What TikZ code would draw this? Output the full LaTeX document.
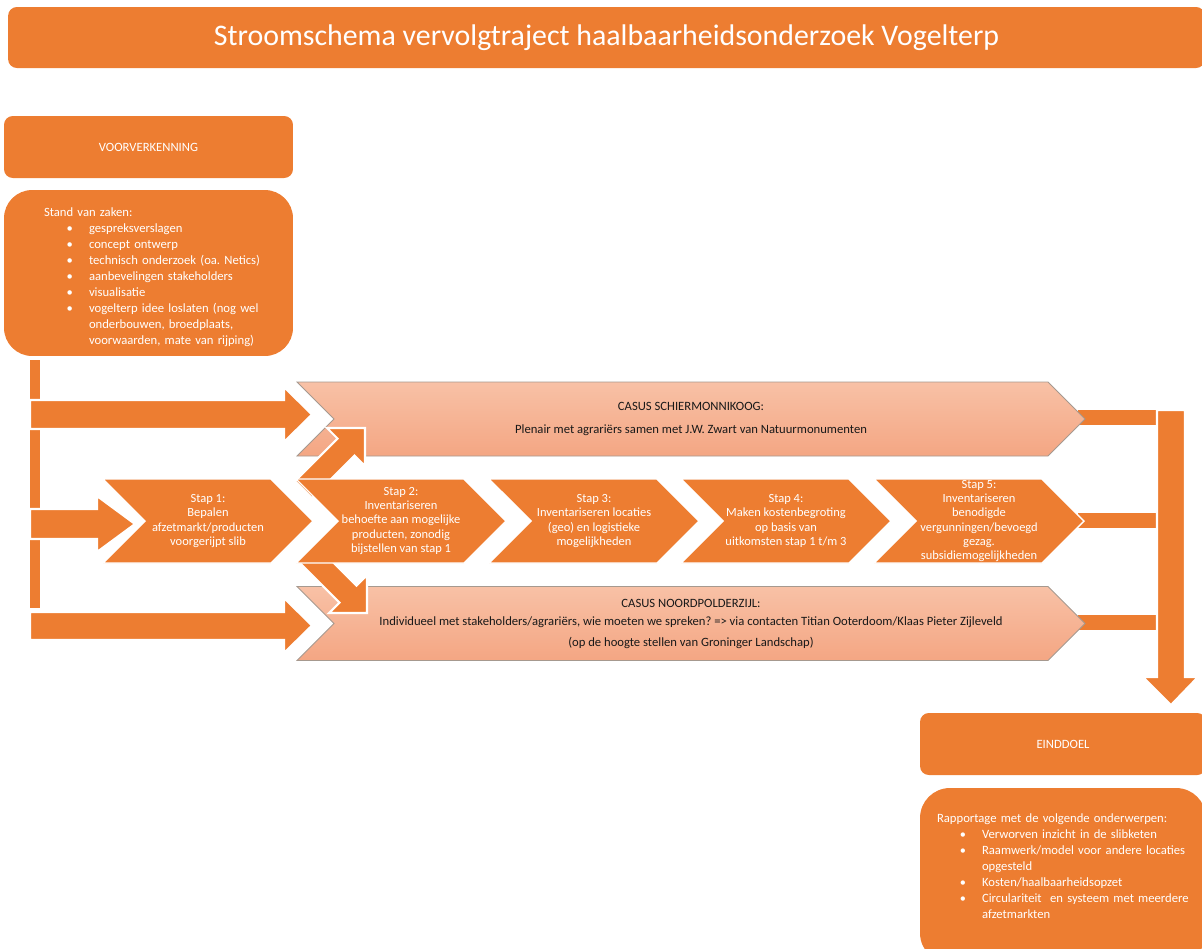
\documentclass[tikz,border=0pt]{standalone}
\usepackage{fontspec}
\setmainfont{Carlito}
\usepackage{enumitem}
\usetikzlibrary{shapes.symbols, positioning}
\frenchspacing

\definecolor{oranje}{HTML}{ED7D31}
\definecolor{zalmboven}{HTML}{F8C1A6}
\definecolor{zalmonder}{HTML}{F4A683}
\definecolor{casusrand}{HTML}{A6998F}

\newcommand{\klein}{\fontsize{7.2}{9.1}\selectfont}

\begin{document}
\begin{tikzpicture}[x=0.02cm, y=-0.02cm,
  balk/.style={fill=oranje, text=white, inner sep=0pt, rounded corners=5pt},
  vak/.style={fill=oranje, inner sep=0pt, rounded corners=16pt},
  lijst/.style={text=white, text width=5.2cm, align=left, inner sep=0pt, font=\klein},
  stap/.style={shape=signal, signal from=west, signal to=east, signal pointer angle=90,
    fill=oranje, draw=white, line width=0.8pt, text=white, align=center,
    minimum width=4.2cm, minimum height=1.68cm, inner sep=0pt,
    font=\fontsize{7.1}{8.1}\selectfont},
  casus/.style={shape=signal, signal from=west, signal to=east, signal pointer angle=90,
    top color=zalmboven, bottom color=zalmonder, draw=casusrand, line width=0.5pt,
    text=black!90, align=center, minimum width=15.76cm, minimum height=1.48cm,
    inner sep=0pt, font=\klein},
  blokpijl/.style={fill=oranje, draw=white, line width=1.2pt}]
\useasboundingbox (0,0) rectangle (1202,948);

% titel en voorverkenning
\node[balk, minimum width=23.94cm, minimum height=1.22cm, font=\fontsize{17}{20}\selectfont]
  (titel) at (606.5,37.5) {Stroomschema vervolgtraject haalbaarheidsonderzoek Vogelterp};
\node[balk, minimum width=5.78cm, minimum height=1.24cm, font=\klein] (voor) at (148.5,147) {VOORVERKENNING};
\node[vak, minimum width=5.78cm, minimum height=3.32cm] (stand) at (148.5,273) {};
\node[lijst, anchor=north west] (standtekst) at ([shift={(40,18)}]stand.north west) {%
  Stand van zaken:
  \begin{itemize}[nosep, leftmargin=0.9cm, labelsep=0.32cm]
  \item gespreksverslagen
  \item concept ontwerp
  \item technisch onderzoek (oa. Netics)
  \item aanbevelingen stakeholders
  \item visualisatie
  \item vogelterp idee loslaten (nog wel\newline onderbouwen, broedplaats,\newline voorwaarden, mate van rijping)
  \end{itemize}};

% pijlen links
\fill[oranje] (30,360) rectangle (40,608);
\draw[blokpijl] (30,400) -- (284,400) -- (284,387) -- (312,414.5) -- (284,442) -- (284,429) -- (30,429) -- cycle;
\draw[blokpijl] (30,509) -- (97,509) -- (97,496) -- (135,524) -- (97,552) -- (97,539) -- (30,539) -- cycle;
\draw[blokpijl] (30,612) -- (284,612) -- (284,598) -- (312,625.5) -- (284,653) -- (284,640) -- (30,640) -- cycle;

% verbindingen rechts
\fill[oranje] (1078,410) rectangle (1156,425);
\fill[oranje] (1078,513) rectangle (1156,528);
\fill[oranje] (1078,615) rectangle (1156,630);

% casussen
\node[casus] (c1) at (691,419) {CASUS SCHIERMONNIKOOG:\\[4pt]
  Plenair met agrariërs samen met J.W. Zwart van Natuurmonumenten};
\node[casus] (c2) at (691,623.5) {CASUS NOORDPOLDERZIJL:\\[1.5pt]
  Individueel met stakeholders/agrariërs, wie moeten we spreken? => via contacten Titian Ooterdoom/Klaas Pieter Zijleveld\\[2.5pt]
  (op de hoogte stellen van Groninger Landschap)};

% schuine pijlen
\draw[blokpijl] (327,428) -- (365,428) -- (365,466) -- (354.5,455.5) -- (312,498) -- (295,481) -- (337.5,438.5) -- cycle;
\draw[blokpijl] (367,575) -- (367,613) -- (329,613) -- (339.5,602.5) -- (297,560) -- (314,543) -- (356.5,585.5) -- cycle;

% stappen
\node[stap] (s1) at (208,521) {Stap 1:\\Bepalen\\afzetmarkt/producten\\voorgerijpt slib};
\node[stap] (s2) at (401,521) {Stap 2:\\Inventariseren\\behoefte aan mogelijke\\producten, zonodig\\bijstellen van stap 1};
\node[stap] (s3) at (594,521) {Stap 3:\\Inventariseren locaties\\(geo) en logistieke\\mogelijkheden};
\node[stap] (s4) at (786,521) {Stap 4:\\Maken kostenbegroting\\op basis van\\uitkomsten stap 1 t/m 3};
\node[stap] (s5) at (979,521) {Stap 5:\\Inventariseren\\benodigde\\vergunningen/bevoegd\\gezag.\\subsidiemogelijkheden};

% naar einddoel
\draw[blokpijl] (1157,410) -- (1185,410) -- (1185,677) -- (1198,677) -- (1171,705) -- (1143,677) -- (1157,677) -- cycle;

\node[balk, minimum width=5.72cm, minimum height=1.24cm, font=\klein] (eind) at (1063,744) {EINDDOEL};
\node[vak, minimum width=5.72cm, minimum height=3.5cm, rounded corners=17pt] (rapport) at (1063,875.5) {};
\node[lijst, anchor=north west] (rapporttekst) at ([shift={(17,26)}]rapport.north west) {%
  Rapportage met de volgende onderwerpen:
  \begin{itemize}[nosep, leftmargin=0.9cm, labelsep=0.32cm, label={\scriptsize\textbullet}]
  \item Verworven inzicht in de slibketen
  \item Raamwerk/model voor andere locaties\newline opgesteld
  \item Kosten/haalbaarheidsopzet
  \item Circulariteit\ \ en systeem met meerdere\newline afzetmarkten
  \end{itemize}};
\end{tikzpicture}
\end{document}
